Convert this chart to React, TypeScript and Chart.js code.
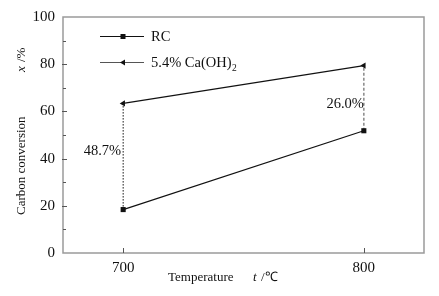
import React, { useEffect, useRef } from "react";
import { Chart, registerables } from "chart.js";

Chart.register(...registerables);

const temperatures = [700, 800];
const rcValues = [18.4, 51.8];
const caValues = [63.4, 79.4];
const gapLabels = ["48.7%", "26.0%"];
const gapLabelAnchors = [43.3, 63.0];
const yTickValues = [0, 20, 40, 60, 80, 100];
const xTickValues = [700, 800];
const seriesNames = ["RC", "5.4% Ca(OH)"];

const FONT = "'Liberation Serif', 'Times New Roman', serif";

const overlay = {
  id: "overlay",
  afterDraw(chart: any) {
    const { ctx, chartArea: a, scales } = chart;
    const xs = scales.x;
    const ys = scales.y;
    ctx.save();
    // frame
    ctx.strokeStyle = "#9a9a9a";
    ctx.lineWidth = 1.5;
    ctx.strokeRect(a.left, a.top, a.right - a.left, a.bottom - a.top);
    // inside ticks
    ctx.strokeStyle = "#555";
    ctx.lineWidth = 1;
    for (let v = 0; v <= 100; v += 10) {
      const y = Math.round(ys.getPixelForValue(v)) + 0.5;
      if (v === 0 || v === 100) continue;
      const major = v % 20 === 0;
      ctx.beginPath();
      ctx.moveTo(a.left - (major ? 1 : 0), y);
      ctx.lineTo(a.left + (major ? 4 : 3), y);
      ctx.stroke();
    }
    xTickValues.forEach((t) => {
      const x = Math.round(xs.getPixelForValue(t)) + 0.5;
      ctx.beginPath();
      ctx.moveTo(x, a.bottom);
      ctx.lineTo(x, a.bottom - 5);
      ctx.stroke();
    });
    // gap labels
    ctx.fillStyle = "#111";
    ctx.font = `14.5px ${FONT}`;
    ctx.textAlign = "right";
    ctx.textBaseline = "middle";
    temperatures.forEach((t, i) => {
      ctx.fillText(gapLabels[i], xs.getPixelForValue(t) - (i === 0 ? 2 : 0), ys.getPixelForValue(gapLabelAnchors[i]));
    });
    // legend
    const legendRows = [
      { y: 36, color: "#111", style: "rect" },
      { y: 62, color: "#555", style: "tri" },
    ];
    legendRows.forEach((r, i) => {
      ctx.strokeStyle = r.color;
      ctx.lineWidth = 1.2;
      ctx.beginPath();
      ctx.moveTo(100, r.y + 0.5);
      ctx.lineTo(144, r.y + 0.5);
      ctx.stroke();
      ctx.fillStyle = "#111";
      if (r.style === "rect") {
        ctx.fillRect(120.5, r.y - 2, 5, 5);
      } else {
        ctx.beginPath();
        ctx.moveTo(120, r.y + 0.5);
        ctx.lineTo(125, r.y - 2.5);
        ctx.lineTo(125, r.y + 3.5);
        ctx.closePath();
        ctx.fill();
      }
      ctx.fillStyle = "#111";
      ctx.font = `14.5px ${FONT}`;
      ctx.textAlign = "left";
      ctx.textBaseline = "middle";
      ctx.fillText(seriesNames[i], 151, r.y + 1);
      if (i === 1) {
        const w = ctx.measureText(seriesNames[i]).width;
        ctx.font = `9.5px ${FONT}`;
        ctx.fillText("2", 151 + w + 0.5, r.y + 6);
      }
    });
    // x title
    ctx.fillStyle = "#111";
    ctx.textBaseline = "alphabetic";
    ctx.textAlign = "left";
    ctx.font = `13px ${FONT}`;
    ctx.fillText("Temperature", 168, 281);
    ctx.font = `italic 13px ${FONT}`;
    ctx.fillText("t", 253, 281);
    ctx.font = `13px ${FONT}`;
    ctx.fillText("/\u2103", 261, 281);
    // y title
    ctx.save();
    ctx.translate(25, 215);
    ctx.rotate(-Math.PI / 2);
    ctx.font = `13px ${FONT}`;
    ctx.fillText("Carbon conversion", 0, 0);
    ctx.font = `italic 13px ${FONT}`;
    ctx.fillText("x", 143, 0);
    ctx.font = `13px ${FONT}`;
    ctx.fillText("/%", 153, 0);
    ctx.restore();
    ctx.restore();
  },
};

export default function App() {
  const ref = useRef<HTMLCanvasElement | null>(null);
  useEffect(() => {
    if (!ref.current) return;
    const gapDatasets = temperatures.map((t, i) => ({
      label: "gap" + i,
      data: [
        { x: t, y: rcValues[i] },
        { x: t, y: caValues[i] },
      ],
      borderColor: i === 0 ? "#111" : "#888",
      borderWidth: i === 0 ? 1 : 1.5,
      borderDash: i === 0 ? [1.5, 1.5] : [3, 2],
      pointRadius: 0,
      order: 5,
    }));
    const chart = new Chart(ref.current, {
      type: "line",
      data: {
        datasets: [
          {
            label: "RC",
            data: temperatures.map((t, i) => ({ x: t, y: rcValues[i] })),
            borderColor: "#111",
            backgroundColor: "#111",
            borderWidth: 1.2,
            pointStyle: "rect",
            pointRadius: 3.6,
            pointBorderWidth: 0,
            order: 1,
          },
          {
            label: "5.4% Ca(OH)2",
            data: temperatures.map((t, i) => ({ x: t, y: caValues[i] })),
            borderColor: "#111",
            backgroundColor: "#111",
            borderWidth: 1.2,
            pointStyle: "triangle",
            rotation: -90,
            pointRadius: 3.5,
            pointBorderWidth: 0,
            order: 1,
          },
          ...gapDatasets,
        ],
      },
      options: {
        responsive: false,
        animation: false,
        layout: { padding: { top: 15, right: 15, left: 0, bottom: 0 } },
        plugins: { legend: { display: false }, tooltip: { enabled: false } },
        scales: {
          x: {
            type: "linear",
            min: 675,
            max: 825,
            afterFit: (s: any) => {
              s.height = 43;
            },
            afterBuildTicks: (s: any) => {
              s.ticks = xTickValues.map((v) => ({ value: v }));
            },
            grid: { display: false, drawTicks: false },
            border: { display: false },
            ticks: {
              padding: 6,
              color: "#111",
              font: { family: FONT, size: 15 },
              callback: (v: any) => String(v),
            },
          },
          y: {
            min: 0,
            max: 100,
            afterFit: (s: any) => {
              s.width = 63;
            },
            afterBuildTicks: (s: any) => {
              s.ticks = yTickValues.map((v) => ({ value: v }));
            },
            grid: { display: false, drawTicks: false },
            border: { display: false },
            ticks: {
              padding: 8,
              color: "#111",
              font: { family: FONT, size: 15 },
            },
          },
        },
      },
      plugins: [overlay],
    });
    return () => chart.destroy();
  }, []);
  return (
    <div style={{ position: "absolute", left: 0, top: 0, width: 439, height: 296, background: "#fff" }}>
      <canvas ref={ref} width={439} height={296} style={{ width: 439, height: 296 }} />
    </div>
  );
}
